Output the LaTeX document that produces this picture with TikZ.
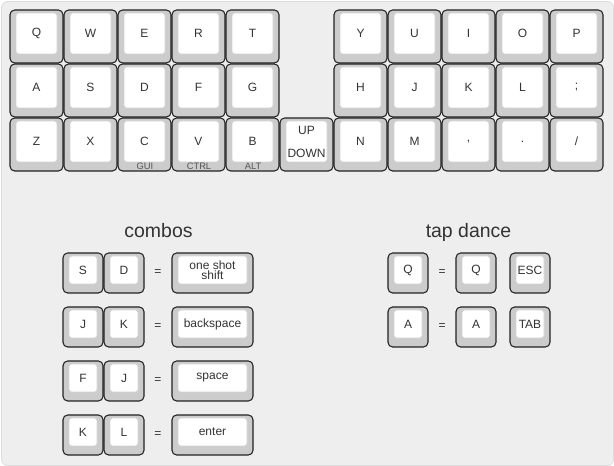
\documentclass[tikz,border=0pt]{standalone}
\usepackage{fontspec}
\setmainfont{Liberation Sans}
\definecolor{panelbg}{HTML}{EEEEEE}
\definecolor{panelline}{HTML}{DDDDDD}
\definecolor{capgray}{HTML}{CCCCCC}
\definecolor{capline}{HTML}{222222}
\definecolor{topline}{HTML}{D4D4D4}
\definecolor{txt}{HTML}{333333}
\definecolor{subtxt}{HTML}{555555}
\tikzset{
  keyouter/.style={draw=capline, fill=capgray, line width=0.8pt, rounded corners=3.5pt},
  keyinner/.style={draw=topline, fill=white, line width=0.6pt, rounded corners=2pt},
  keytext/.style={text=txt, font=\fontsize{9}{10}\selectfont, inner sep=0pt},
  sublab/.style={text=subtxt, font=\fontsize{7}{8}\selectfont, inner sep=0pt},
  title/.style={text=txt, font=\fontsize{14.6}{16}\selectfont, inner sep=0pt, anchor=base},
  eqsign/.style={text=txt, font=\fontsize{9}{10}\selectfont, inner sep=0pt},
}
% [options], name, x, y, w, h, label
\newcommand\kcap[7][]{%
  \draw[keyouter] (#3,#4) rectangle ({#3+#5},{#4+#6});
  \draw[keyinner] ({#3+6},{#4+3}) rectangle ({#3+#5-6},{#4+#6-9});
  \node[keytext, align=center, #1] (#2) at ({#3+#5/2},{#4+#6/2-3}) {#7};
}
\begin{document}
\begin{tikzpicture}[x=0.75pt,y=-0.75pt]
\useasboundingbox (0,0) rectangle (614,466);
\draw[fill=panelbg, draw=panelline, line width=0.6pt, rounded corners=4.5pt] (1.5,1.5) rectangle (613.5,465.5);
% row 1
\foreach \lab/\c in {Q/0,W/1,E/2,R/3,T/4,Y/6,U/7,I/8,O/9,P/10}{
  \kcap{k1-\c}{10+54*\c}{10}{53}{53}{\lab}
}
% row 2
\foreach \lab/\c in {A/0,S/1,D/2,F/3,G/4,H/6,J/7,K/8,L/9,;/10}{
  \kcap{k2-\c}{10+54*\c}{64}{53}{53}{\lab}
}
% row 3
\kcap{k3-0}{10}{118}{53}{53}{Z}
\kcap{k3-1}{64}{118}{53}{53}{X}
\kcap{k3-2}{118}{118}{53}{53}{C}
\kcap{k3-3}{172}{118}{53}{53}{V}
\kcap{k3-4}{226}{118}{53}{53}{B}
\kcap[font=\fontsize{9}{17.3}\selectfont]{k3-5}{280}{118}{53}{53}{UP\\DOWN}
\kcap{k3-6}{334}{118}{53}{53}{N}
\kcap{k3-7}{388}{118}{53}{53}{M}
\kcap{k3-8}{442}{118}{53}{53}{,}
\kcap{k3-9}{496}{118}{53}{53}{.}
\kcap{k3-10}{550}{118}{53}{53}{/}
\node[sublab] (gui) at (145,166) {GUI};
\node[sublab] (ctrl) at (199,166) {CTRL};
\node[sublab] (alt) at (253,166) {ALT};
% titles
\node[title] (combos) at (158.5,237.5) {combos};
\node[title] (tapdance) at (468.5,237.5) {tap dance};
% combos
\kcap{c1a}{63}{253}{40}{40}{S}
\kcap{c1b}{104}{253}{40}{40}{D}
\node[eqsign] (e1) at (158,273) {=};
\kcap[font=\fontsize{9}{7.6}\selectfont]{c1r}{172}{253}{81}{40}{one shot\\shift}
\kcap{c2a}{63}{307}{40}{40}{J}
\kcap{c2b}{104}{307}{40}{40}{K}
\node[eqsign] (e2) at (158,327) {=};
\kcap{c2r}{172}{307}{81}{40}{backspace}
\kcap{c3a}{63}{361}{40}{40}{F}
\kcap{c3b}{104}{361}{40}{40}{J}
\node[eqsign] (e3) at (158,381) {=};
\kcap{c3r}{172}{361}{81}{40}{space}
\kcap{c4a}{63}{415}{40}{40}{K}
\kcap{c4b}{104}{415}{40}{40}{L}
\node[eqsign] (e4) at (158,435) {=};
\kcap{c4r}{172}{415}{81}{40}{enter}
% tap dance
\kcap{t1a}{388}{253}{40}{40}{Q}
\node[eqsign] (te1) at (442,273) {=};
\kcap{t1b}{456}{253}{40}{40}{Q}
\kcap{t1c}{510}{253}{40}{40}{ESC}
\kcap{t2a}{388}{307}{40}{40}{A}
\node[eqsign] (te2) at (442,327) {=};
\kcap{t2b}{456}{307}{40}{40}{A}
\kcap{t2c}{510}{307}{40}{40}{TAB}
\end{tikzpicture}
\end{document}
